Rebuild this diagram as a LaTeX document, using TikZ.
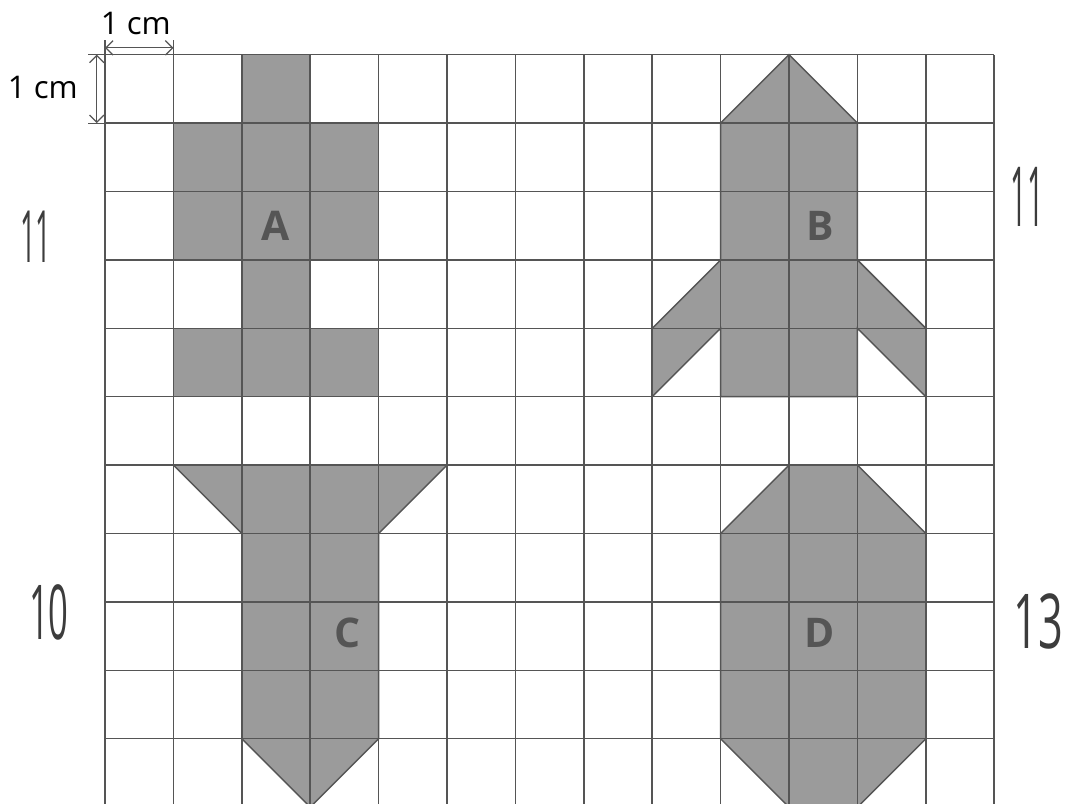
\documentclass[tikz,border=0pt]{standalone}
\usepackage{fontspec}
\setmainfont{Open Sans}
\usetikzlibrary{positioning, arrows.meta}
\definecolor{gridline}{RGB}{85,85,85}
\definecolor{shapefill}{RGB}{155,155,155}
\definecolor{lettercol}{RGB}{85,85,85}
\definecolor{penink}{RGB}{60,60,60}
\tikzset{
  figure/.style={fill=shapefill, draw=gridline, line width=0.6pt},
  letter/.style={font=\fontsize{17}{17}\selectfont\bfseries, text=lettercol},
  count/.style={font=\fontsize{30}{30}\selectfont, text=penink, inner sep=0pt},
  unit/.style={font=\fontsize{13}{13}\selectfont},
  dim/.style={draw=gridline, line width=0.5pt, {Straight Barb[length=3pt]}-{Straight Barb[length=3pt]}},
  extline/.style={draw=gridline, line width=0.5pt}
}

\begin{document}
\begin{tikzpicture}[x=1cm, y=1cm]
    \useasboundingbox (-1.535,0.05) rectangle (14.035,11.80);

    % the four figures
    \filldraw[figure] (2,11) -- (3,11) -- (3,10) -- (4,10) -- (4,8) -- (3,8) -- (3,7)
          -- (4,7) -- (4,6) -- (1,6) -- (1,7) -- (2,7) -- (2,8) -- (1,8) -- (1,10)
          -- (2,10) -- cycle;
    \filldraw[figure] (10,11) -- (11,10) -- (11,8) -- (12,7) -- (12,6) -- (11,7)
          -- (11,6) -- (9,6) -- (9,7) -- (8,6) -- (8,7) -- (9,8) -- (9,10) -- cycle;
    \filldraw[figure] (1,5) -- (5,5) -- (4,4) -- (4,1) -- (3,0) -- (2,1) -- (2,4) -- cycle;
    \filldraw[figure] (10,5) -- (11,5) -- (12,4) -- (12,1) -- (11,0) -- (10,0)
          -- (9,1) -- (9,4) -- cycle;

    \draw[gridline, line width=0.6pt] (0,0) grid (13,11);

    \node[letter] (A) at (2.5,8.5) {A};
    \node[letter] (B) at (10.45,8.5) {B};
    \node[letter] (C) at (3.55,2.55) {C};
    \node[letter] (D) at (10.45,2.55) {D};

    % 1 cm marks
    \draw[extline] (0,11) -- (0,11.22) (1,11) -- (1,11.22)
          (0,11) -- (-0.25,11) (0,10) -- (-0.25,10);
    \coordinate (w0) at (0,11.1);
    \coordinate (w1) at (1,11.1);
    \coordinate (h0) at (-0.12,11);
    \coordinate (h1) at (-0.12,10);
    \draw[dim] (w0) -- (w1);
    \draw[dim] (h0) -- (h1);
    \node[unit, anchor=base] (wlabel) at (0.45,11.29) {1 cm};
    \node[unit] (hlabel) at (-0.91,10.52) {1 cm};

    % pencilled areas
    \node[count] (nA) at (-1.01,8.34) {\scalebox{0.38}[1]{11}};
    \node[count] (nB) at (13.48,8.92) {\scalebox{0.4}[1.15]{11}};
    \node[count] (nC) at (-0.82,2.84) {\scalebox{0.48}[1.05]{10}};
    \node[count] (nD) at (13.64,2.71) {\scalebox{0.6}[1.05]{13}};
\end{tikzpicture}
\end{document}
